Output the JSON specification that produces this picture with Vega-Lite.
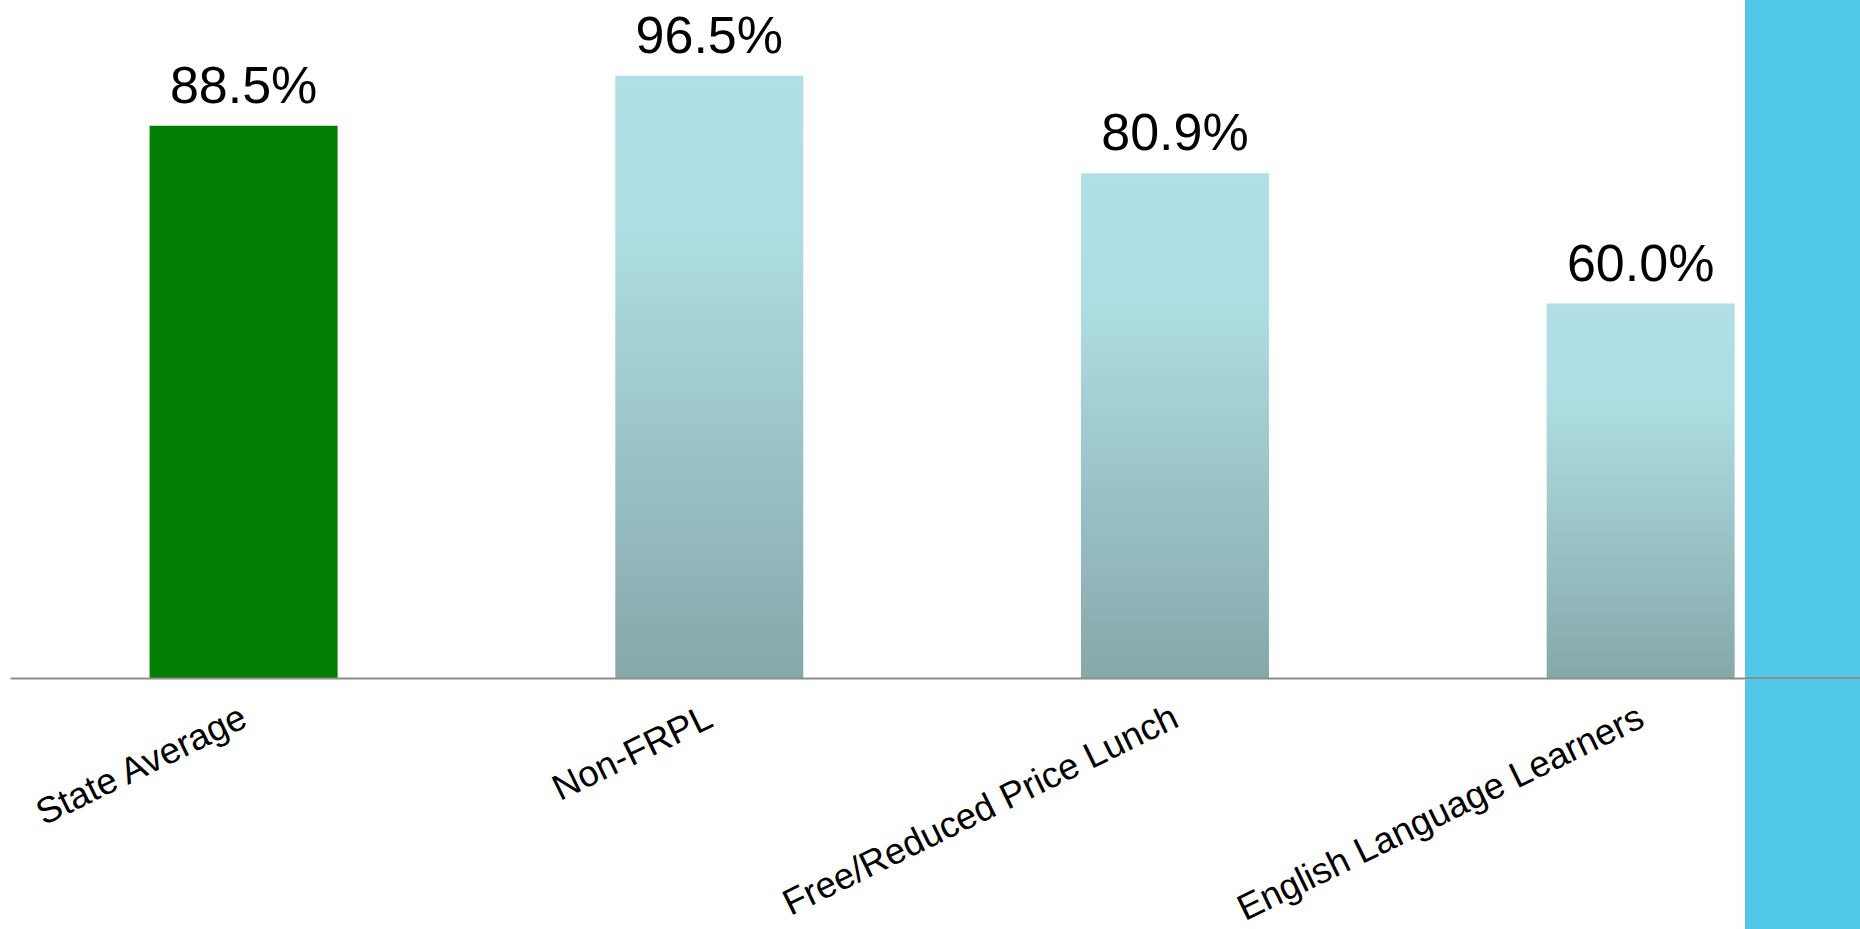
{
  "$schema": "https://vega.github.io/schema/vega-lite/v6.json",
  "padding": {"left": 10, "top": 0, "right": 0, "bottom": 0},
  "spacing": 0,
  "bounds": "flush",
  "background": "white",
  "config": {"view": {"stroke": null}, "font": "Liberation Sans"},
  "hconcat": [
    {
      "width": 1735,
      "height": 678,
      "data": {"values": [
        {"group": "State Average", "kind": "state", "rate": 0.885},
        {"group": "Non-FRPL", "kind": "subgroup", "rate": 0.965},
        {"group": "Free/Reduced Price Lunch", "kind": "subgroup", "rate": 0.809},
        {"group": "English Language Learners", "kind": "subgroup", "rate": 0.600}
      ]},
      "encoding": {
        "x": {
          "field": "group", "type": "nominal", "sort": null,
          "scale": {"paddingInner": 0.5963, "paddingOuter": 0.161, "align": 0.931},
          "axis": {"title": null, "domainColor": "#8C8C8C", "domainWidth": 2, "ticks": false, "tickSize": 0,
                   "labelAngle": -26, "labelFontSize": 36.5, "labelFont": "Liberation Sans", "labelColor": "black",
                   "labelPadding": 21, "labelOffset": -7, "labelLimit": 1000, "labelOverlap": false, "zindex": 1}
        },
        "y": {"field": "rate", "type": "quantitative", "scale": {"domain": [0, 1.0865], "nice": false}, "axis": null}
      },
      "layer": [
        {
          "mark": {"type": "bar"},
          "encoding": {
            "color": {
              "condition": {"test": "datum.kind === 'state'", "value": "#027F02"},
              "value": {"gradient": "linear", "x1": 0, "y1": 0, "x2": 0, "y2": 1,
                        "stops": [{"offset": 0, "color": "#B0E0E6"}, {"offset": 0.25, "color": "#AEDEE3"}, {"offset": 1, "color": "#86A8AA"}]}
            }
          }
        },
        {
          "mark": {"type": "text", "baseline": "alphabetic", "dy": -23, "fontSize": 52, "color": "black", "font": "Liberation Sans"},
          "encoding": {"text": {"field": "rate", "type": "quantitative", "format": ".1%"}}
        }
      ]
    },
    {
      "width": 115,
      "height": 929,
      "view": {"fill": "#52C8E9", "stroke": null},
      "data": {"values": [{"level": 0}]},
      "mark": {"type": "rule", "color": "#8C8C8C", "strokeWidth": 2},
      "encoding": {
        "y": {"field": "level", "type": "quantitative", "scale": {"domain": [-0.4022, 1.0865], "nice": false, "zero": false}, "axis": null}
      }
    }
  ]
}
